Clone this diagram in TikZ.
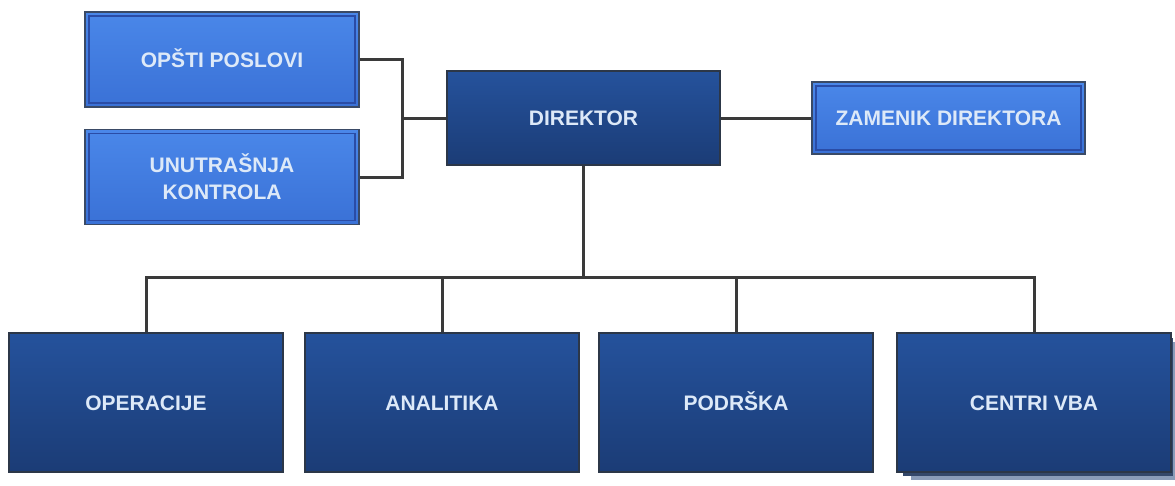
\documentclass[tikz,border=0pt]{standalone}
\usepackage{fontspec}
\setmainfont{Liberation Sans}
\definecolor{linec}{HTML}{3A3A3A}
\definecolor{txtc}{HTML}{DDE9F8}
\definecolor{darktop}{HTML}{25529C}
\definecolor{darkbot}{HTML}{1B3C76}
\definecolor{darkedge}{HTML}{2C3748}
\definecolor{lighttop}{HTML}{4A87E9}
\definecolor{lightbot}{HTML}{3A71D6}
\definecolor{lightedge}{HTML}{3A4A66}
\definecolor{lightinner}{HTML}{2A4CA6}
\definecolor{shadowa}{HTML}{34486A}
\definecolor{shadowb}{HTML}{8A9CB8}
\tikzset{
  boxtext/.style={font=\fontsize{21}{27}\selectfont\bfseries, text=txtc, align=center, inner sep=0pt},
  oneline/.style={text height=15pt, text depth=0pt},
  darkbox/.style={boxtext, oneline, draw=darkedge, line width=1.5pt, top color=darktop, bottom color=darkbot},
  lightbox/.style={boxtext, draw=lightedge, line width=1.5pt, top color=lighttop, bottom color=lightbot,
    path picture={\draw[lightinner, line width=1.6pt]
      ([shift={(4pt,-4pt)}]path picture bounding box.north west) rectangle
      ([shift={(-4pt,4pt)}]path picture bounding box.south east);}},
  conn/.style={draw=linec, line width=3pt, line join=miter}
}
\begin{document}
\begin{tikzpicture}[x=1pt,y=-1pt]
\useasboundingbox[fill=white] (0,0) rectangle (1175,485);
% shadow stack behind CENTRI VBA
\fill[shadowb] (911,342) rectangle (1175,480);
\fill[shadowa] (903,338) rectangle (1173,476);
% nodes
\node[lightbox, oneline, minimum width=274pt, minimum height=95pt] (opsti) at (222,59.5) {OP\v{S}TI POSLOVI};
\node[lightbox, minimum width=274pt, minimum height=95pt] (unutr) at (222,177) {UNUTRA\v{S}NJA\\KONTROLA};
\node[darkbox, minimum width=273pt, minimum height=94pt] (dir) at (583.5,118) {DIREKTOR};
\node[lightbox, oneline, minimum width=273pt, minimum height=72pt] (zam) at (948.5,118) {ZAMENIK DIREKTORA};
\node[darkbox, minimum width=274pt, minimum height=139pt] (oper) at (146,402.5) {OPERACIJE};
\node[darkbox, minimum width=274pt, minimum height=139pt] (anal) at (442,402.5) {ANALITIKA};
\node[darkbox, minimum width=274pt, minimum height=139pt] (podr) at (736,402.5) {PODR\v{S}KA};
\node[darkbox, minimum width=274pt, minimum height=139pt] (centri) at (1034,402.5) {CENTRI VBA};
% junctions
\coordinate (jl) at (402,118);
\coordinate (bus) at (583.5,277);
% connectors
\draw[conn] (opsti.east) -| (jl) |- (unutr.east);
\draw[conn] (jl) -- (dir.west);
\draw[conn] (dir.east) -- (zam.west);
\draw[conn] (dir.south) -- (bus);
\draw[conn] (oper.north) |- (bus) -| (centri.north);
\draw[conn] (bus) -| (anal.north);
\draw[conn] (bus) -| (podr.north);
\end{tikzpicture}
\end{document}
